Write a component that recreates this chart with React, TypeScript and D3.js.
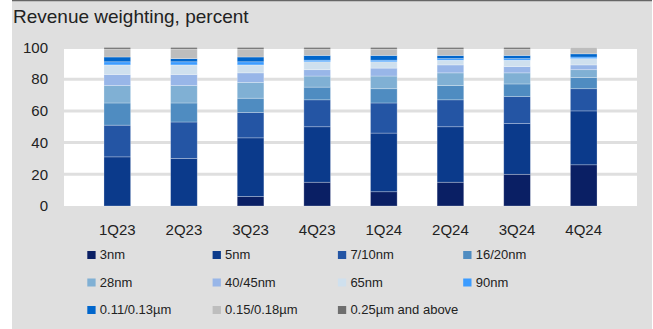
import React from 'react';
import * as d3 from 'd3';

const quarters = ['1Q23', '2Q23', '3Q23', '4Q23', '1Q24', '2Q24', '3Q24', '4Q24'];
const nodes = ['3nm', '5nm', '7/10nm', '16/20nm', '28nm', '40/45nm', '65nm', '90nm', '0.11/0.13µm', '0.15/0.18µm', '0.25µm and above'];

// percent of revenue per node, one array per series
const n3 = [0, 0, 6, 15, 9, 15, 20, 26];
const n5 = [31, 30, 37, 35, 37, 35, 32, 34];
const n7 = [20, 23, 16, 17, 19, 17, 17, 14];
const n16 = [14, 12, 9, 8, 9, 9, 8, 7];
const n28 = [11, 11, 10, 7, 8, 8, 7, 5];
const n40 = [7, 7, 6, 4, 5, 5, 4, 3];
const n65 = [6, 6, 5, 5, 4, 3, 4, 4];
const n90 = [2, 2, 2, 1, 1, 1, 1, 1];
const n011 = [3, 2, 3, 3, 3, 2, 2, 2];
const n015 = [5, 6, 5, 4, 4, 4, 4, 4];
const n025 = [1, 1, 1, 1, 1, 1, 1, 0];
const yTicks = [0, 20, 40, 60, 80, 100];

const seriesValues = [n3, n5, n7, n16, n28, n40, n65, n90, n011, n015, n025];
const colors = ['#0a1f64', '#0b3a8b', '#2455a4', '#4f8cc1', '#80b0d4', '#98b6e8', '#cfe0ee', '#3c9cff', '#0066cc', '#bdbdbd', '#6e6e6e'];

const W = 653;
const H = 329;
const bg = '#dfdfdf';

export default function App() {
  const rows = quarters.map((q, i) => {
    const r: Record<string, any> = { q };
    nodes.forEach((n, j) => (r[n] = seriesValues[j][i]));
    return r;
  });
  const stacked = d3.stack().keys(nodes)(rows as any);

  const x = d3.scaleBand().domain(quarters).range([64, 637]).padding(0.6);
  const y = d3.scaleLinear().domain([0, 100]).range([206, 47.5]);

  return (
    <svg width={W} height={H} style={{ position: 'absolute', left: 0, top: 0 }} fontFamily="'Liberation Sans', Arial, sans-serif">
      <rect x={12} y={0} width={640} height={H} fill={bg} />
      <line x1={12} x2={652} y1={0.5} y2={0.5} stroke="#666" strokeWidth={1.5} />
      <text x={13} y={23} fontSize={19} fill="#222">Revenue weighting, percent</text>

      <rect x={64} y={y(100)} width={573} height={y(0) - y(100)} fill="#fff" />
      {yTicks.filter(t => t > 0).map(t => (
        <line key={t} x1={64} x2={637} y1={y(t)} y2={y(t)} stroke={bg} strokeWidth={3} />
      ))}
      {yTicks.map(t => (
        <text key={t} x={48} y={y(t)} dy="0.35em" textAnchor="end" fontSize={15} fill="#222">{t}</text>
      ))}

      {stacked.map((s, j) => (
        <g key={s.key} fill={colors[j]}>
          {s.map((d, i) => d[1] - d[0] > 0 ? (
            <rect key={i} x={x(quarters[i])} y={y(d[1])} width={x.bandwidth()} height={y(d[0]) - y(d[1])}
              stroke="rgba(255,255,255,0.35)" strokeWidth={0.75} />
          ) : null)}
        </g>
      ))}

      {quarters.map(q => (
        <text key={q} x={(x(q) as number) + x.bandwidth() / 2} y={235} textAnchor="middle" fontSize={15} fill="#222">{q}</text>
      ))}

      {nodes.map((n, j) => {
        const col = j % 4;
        const row = Math.floor(j / 4);
        const lx = 87.3 + col * 125.3;
        const ly = 259 + row * 27.5;
        return (
          <g key={n}>
            <rect x={lx} y={ly - 8} width={8.3} height={8} fill={colors[j]} />
            <text x={lx + 12.5} y={ly} fontSize={13} fill="#222">{n}</text>
          </g>
        );
      })}
    </svg>
  );
}
